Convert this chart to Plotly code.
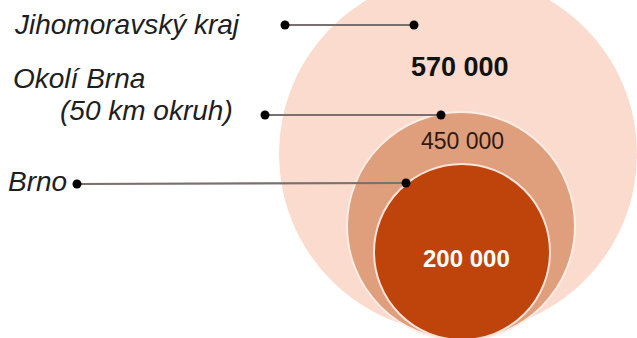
import plotly.graph_objects as go

# Population of the three nested areas
regions = ["Jihomoravský kraj", "Okolí Brna", "Brno"]
label_lines = [["Jihomoravský kraj"], ["Okolí Brna", "(50 km okruh)"], ["Brno"]]
population = [570000, 450000, 200000]

W, H = 637, 338

# Circle geometry (canvas units) and fills, outermost first
circles = [
    dict(cx=458, cy=154, r=179, fill="#FADBCD", edge="rgba(0,0,0,0)"),
    dict(cx=461, cy=226, r=114, fill="#DF9E7C", edge="#FBEDE6"),
    dict(cx=462, cy=252, r=88, fill="#BF440B", edge="#F6E3DA"),
]
value_pos = [(460, 67), (462, 141), (466, 258)]
value_style = [
    dict(size=27, color="#111111", family="Liberation Sans", weight="bold"),
    dict(size=23, color="#2E1A14", family="Liberation Sans", weight="normal"),
    dict(size=24, color="#FFFFFF", family="Liberation Sans", weight="bold"),
]

# Leader lines: start dot near label, end dot on the circle
leaders = [((285, 25), (414, 25)), ((265, 115), (441, 115)), ((77, 184), (406, 183))]
# Label line positions: (x, y, anchor)
label_pos = [[(12, 24, "left")], [(11, 78, "left"), (235, 110, "right")], [(6, 181, "left")]]

fig = go.Figure()

for c in circles:
    fig.add_shape(
        type="circle", xref="x", yref="y", layer="below",
        x0=c["cx"] - c["r"], x1=c["cx"] + c["r"],
        y0=c["cy"] - c["r"], y1=c["cy"] + c["r"],
        fillcolor=c["fill"], line=dict(color=c["edge"], width=2),
    )

for (x0, y0), (x1, y1) in leaders:
    fig.add_trace(go.Scatter(
        x=[x0, x1], y=[y0, y1], mode="lines",
        line=dict(color="#7A706E", width=2.2), hoverinfo="skip", showlegend=False,
    ))
    fig.add_trace(go.Scatter(
        x=[x0, x1], y=[y0, y1], mode="markers",
        marker=dict(color="#000000", size=9), hoverinfo="skip", showlegend=False,
    ))

for lines, poss in zip(label_lines, label_pos):
    for text, (x, y, anchor) in zip(lines, poss):
        fig.add_annotation(
            x=x, y=y, text=f"<i>{text}</i>", showarrow=False,
            xanchor=anchor, yanchor="middle",
            font=dict(family="Liberation Sans", size=28, color="#1E1E1E"),
        )

for v, (x, y), st in zip(population, value_pos, value_style):
    label = f"{v:,}".replace(",", " ")
    fig.add_annotation(
        x=x, y=y, text=label, showarrow=False, xanchor="center", yanchor="middle",
        font=dict(family=st["family"], size=st["size"], color=st["color"], weight=st["weight"]),
    )

fig.update_xaxes(range=[0, W], visible=False, fixedrange=True)
fig.update_yaxes(range=[H, 0], visible=False, fixedrange=True)
fig.update_layout(
    width=W, height=H, margin=dict(l=0, r=0, t=0, b=0),
    paper_bgcolor="white", plot_bgcolor="white",
)

fig.write_html("out.html", config={"displayModeBar": False})
